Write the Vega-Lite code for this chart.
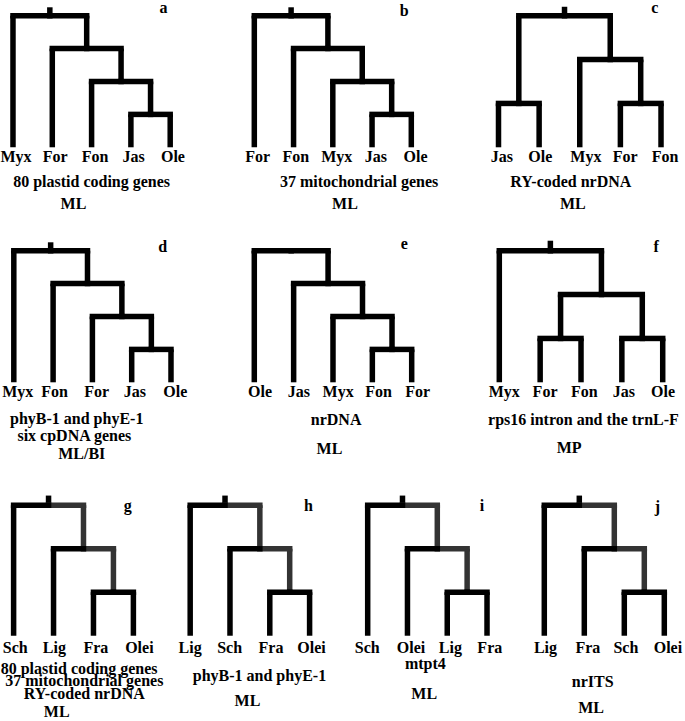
{
"$schema":"https://vega.github.io/schema/vega-lite/v6.json",
"padding":0,
"spacing":0,
"config":{"view":{"stroke":null},"concat":{"spacing":0}},
"datasets":{
"seg":[
{"p":"a","cx":3.5,"cy":0.25,"px":2.75,"py":0.5,"k":"int"},
{"p":"a","cx":2.75,"cy":0.5,"px":1.875,"py":0.75,"k":"int"},
{"p":"a","cx":1.875,"cy":0.75,"px":0.9375,"py":1,"k":"int"},
{"p":"a","cx":0,"cy":0,"px":0.9375,"py":1,"k":"leaf"},
{"p":"a","cx":1,"cy":0,"px":1.875,"py":0.75,"k":"leaf"},
{"p":"a","cx":2,"cy":0,"px":2.75,"py":0.5,"k":"leaf"},
{"p":"a","cx":3,"cy":0,"px":3.5,"py":0.25,"k":"leaf"},
{"p":"a","cx":4,"cy":0,"px":3.5,"py":0.25,"k":"leaf"},
{"p":"a","cx":0.9375,"cy":1,"px":0.9375,"py":1.064,"k":"stub"},
{"p":"b","cx":3.5,"cy":0.25,"px":2.75,"py":0.5,"k":"int"},
{"p":"b","cx":2.75,"cy":0.5,"px":1.875,"py":0.75,"k":"int"},
{"p":"b","cx":1.875,"cy":0.75,"px":0.9375,"py":1,"k":"int"},
{"p":"b","cx":0,"cy":0,"px":0.9375,"py":1,"k":"leaf"},
{"p":"b","cx":1,"cy":0,"px":1.875,"py":0.75,"k":"leaf"},
{"p":"b","cx":2,"cy":0,"px":2.75,"py":0.5,"k":"leaf"},
{"p":"b","cx":3,"cy":0,"px":3.5,"py":0.25,"k":"leaf"},
{"p":"b","cx":4,"cy":0,"px":3.5,"py":0.25,"k":"leaf"},
{"p":"b","cx":0.9375,"cy":1,"px":0.9375,"py":1.064,"k":"stub"},
{"p":"c","cx":0.5,"cy":0.3333,"px":1.625,"py":1,"k":"int"},
{"p":"c","cx":3.5,"cy":0.3333,"px":2.75,"py":0.6667,"k":"int"},
{"p":"c","cx":2.75,"cy":0.6667,"px":1.625,"py":1,"k":"int"},
{"p":"c","cx":0,"cy":0,"px":0.5,"py":0.3333,"k":"leaf"},
{"p":"c","cx":1,"cy":0,"px":0.5,"py":0.3333,"k":"leaf"},
{"p":"c","cx":2,"cy":0,"px":2.75,"py":0.6667,"k":"leaf"},
{"p":"c","cx":3,"cy":0,"px":3.5,"py":0.3333,"k":"leaf"},
{"p":"c","cx":4,"cy":0,"px":3.5,"py":0.3333,"k":"leaf"},
{"p":"c","cx":1.625,"cy":1,"px":1.625,"py":1.068,"k":"stub"},
{"p":"d","cx":3.5,"cy":0.25,"px":2.75,"py":0.5,"k":"int"},
{"p":"d","cx":2.75,"cy":0.5,"px":1.875,"py":0.75,"k":"int"},
{"p":"d","cx":1.875,"cy":0.75,"px":0.9375,"py":1,"k":"int"},
{"p":"d","cx":0,"cy":0,"px":0.9375,"py":1,"k":"leaf"},
{"p":"d","cx":1,"cy":0,"px":1.875,"py":0.75,"k":"leaf"},
{"p":"d","cx":2,"cy":0,"px":2.75,"py":0.5,"k":"leaf"},
{"p":"d","cx":3,"cy":0,"px":3.5,"py":0.25,"k":"leaf"},
{"p":"d","cx":4,"cy":0,"px":3.5,"py":0.25,"k":"leaf"},
{"p":"d","cx":0.9375,"cy":1,"px":0.9375,"py":1.064,"k":"stub"},
{"p":"e","cx":3.5,"cy":0.25,"px":2.75,"py":0.5,"k":"int"},
{"p":"e","cx":2.75,"cy":0.5,"px":1.875,"py":0.75,"k":"int"},
{"p":"e","cx":1.875,"cy":0.75,"px":0.9375,"py":1,"k":"int"},
{"p":"e","cx":0,"cy":0,"px":0.9375,"py":1,"k":"leaf"},
{"p":"e","cx":1,"cy":0,"px":1.875,"py":0.75,"k":"leaf"},
{"p":"e","cx":2,"cy":0,"px":2.75,"py":0.5,"k":"leaf"},
{"p":"e","cx":3,"cy":0,"px":3.5,"py":0.25,"k":"leaf"},
{"p":"e","cx":4,"cy":0,"px":3.5,"py":0.25,"k":"leaf"},
{"p":"f","cx":1.5,"cy":0.3333,"px":2.5,"py":0.6667,"k":"int"},
{"p":"f","cx":3.5,"cy":0.3333,"px":2.5,"py":0.6667,"k":"int"},
{"p":"f","cx":2.5,"cy":0.6667,"px":1.25,"py":1,"k":"int"},
{"p":"f","cx":0,"cy":0,"px":1.25,"py":1,"k":"leaf"},
{"p":"f","cx":1,"cy":0,"px":1.5,"py":0.3333,"k":"leaf"},
{"p":"f","cx":2,"cy":0,"px":1.5,"py":0.3333,"k":"leaf"},
{"p":"f","cx":3,"cy":0,"px":3.5,"py":0.3333,"k":"leaf"},
{"p":"f","cx":4,"cy":0,"px":3.5,"py":0.3333,"k":"leaf"},
{"p":"f","cx":1.25,"cy":1,"px":1.25,"py":1.076,"k":"stub"},
{"p":"g","cx":2.5,"cy":0.3333,"px":1.75,"py":0.6667,"k":"int"},
{"p":"g","cx":1.75,"cy":0.6667,"px":0.875,"py":1,"k":"int"},
{"p":"g","cx":0,"cy":0,"px":0.875,"py":1,"k":"leaf"},
{"p":"g","cx":1,"cy":0,"px":1.75,"py":0.6667,"k":"leaf"},
{"p":"g","cx":2,"cy":0,"px":2.5,"py":0.3333,"k":"leaf"},
{"p":"g","cx":3,"cy":0,"px":2.5,"py":0.3333,"k":"leaf"},
{"p":"g","cx":0.875,"cy":1,"px":0.875,"py":1.074,"k":"stub"},
{"p":"h","cx":2.5,"cy":0.3333,"px":1.75,"py":0.6667,"k":"int"},
{"p":"h","cx":1.75,"cy":0.6667,"px":0.875,"py":1,"k":"int"},
{"p":"h","cx":0,"cy":0,"px":0.875,"py":1,"k":"leaf"},
{"p":"h","cx":1,"cy":0,"px":1.75,"py":0.6667,"k":"leaf"},
{"p":"h","cx":2,"cy":0,"px":2.5,"py":0.3333,"k":"leaf"},
{"p":"h","cx":3,"cy":0,"px":2.5,"py":0.3333,"k":"leaf"},
{"p":"h","cx":0.875,"cy":1,"px":0.875,"py":1.074,"k":"stub"},
{"p":"i","cx":2.5,"cy":0.3333,"px":1.75,"py":0.6667,"k":"int"},
{"p":"i","cx":1.75,"cy":0.6667,"px":0.875,"py":1,"k":"int"},
{"p":"i","cx":0,"cy":0,"px":0.875,"py":1,"k":"leaf"},
{"p":"i","cx":1,"cy":0,"px":1.75,"py":0.6667,"k":"leaf"},
{"p":"i","cx":2,"cy":0,"px":2.5,"py":0.3333,"k":"leaf"},
{"p":"i","cx":3,"cy":0,"px":2.5,"py":0.3333,"k":"leaf"},
{"p":"i","cx":0.875,"cy":1,"px":0.875,"py":1.074,"k":"stub"},
{"p":"j","cx":2.5,"cy":0.3333,"px":1.75,"py":0.6667,"k":"int"},
{"p":"j","cx":1.75,"cy":0.6667,"px":0.875,"py":1,"k":"int"},
{"p":"j","cx":0,"cy":0,"px":0.875,"py":1,"k":"leaf"},
{"p":"j","cx":1,"cy":0,"px":1.75,"py":0.6667,"k":"leaf"},
{"p":"j","cx":2,"cy":0,"px":2.5,"py":0.3333,"k":"leaf"},
{"p":"j","cx":3,"cy":0,"px":2.5,"py":0.3333,"k":"leaf"},
{"p":"j","cx":0.875,"cy":1,"px":0.875,"py":1.074,"k":"stub"}
],
"txt":[
{"p":"a","cx":0.075,"cy":-0.114,"t":"Myx"},
{"p":"a","cx":1.076,"cy":-0.114,"t":"For"},
{"p":"a","cx":2.09,"cy":-0.114,"t":"Fon"},
{"p":"a","cx":3.07,"cy":-0.114,"t":"Jas"},
{"p":"a","cx":4.07,"cy":-0.114,"t":"Ole"},
{"p":"a","cx":2.0,"cy":-0.299,"t":"80 plastid coding genes"},
{"p":"a","cx":1.54,"cy":-0.469,"t":"ML"},
{"p":"a","cx":3.83,"cy":1.018,"t":"a"},
{"p":"b","cx":0.087,"cy":-0.114,"t":"For"},
{"p":"b","cx":1.06,"cy":-0.114,"t":"Fon"},
{"p":"b","cx":2.10,"cy":-0.114,"t":"Myx"},
{"p":"b","cx":3.10,"cy":-0.114,"t":"Jas"},
{"p":"b","cx":4.11,"cy":-0.114,"t":"Ole"},
{"p":"b","cx":2.67,"cy":-0.299,"t":"37 mitochondrial genes"},
{"p":"b","cx":2.31,"cy":-0.469,"t":"ML"},
{"p":"b","cx":3.82,"cy":1.0,"t":"b"},
{"p":"c","cx":0.08,"cy":-0.114,"t":"Jas"},
{"p":"c","cx":1.03,"cy":-0.114,"t":"Ole"},
{"p":"c","cx":2.15,"cy":-0.114,"t":"Myx"},
{"p":"c","cx":3.12,"cy":-0.114,"t":"For"},
{"p":"c","cx":4.10,"cy":-0.114,"t":"Fon"},
{"p":"c","cx":1.78,"cy":-0.299,"t":"RY-coded nrDNA"},
{"p":"c","cx":1.83,"cy":-0.469,"t":"ML"},
{"p":"c","cx":3.85,"cy":1.018,"t":"c"},
{"p":"d","cx":0.10,"cy":-0.114,"t":"Myx"},
{"p":"d","cx":1.04,"cy":-0.114,"t":"Fon"},
{"p":"d","cx":2.11,"cy":-0.114,"t":"For"},
{"p":"d","cx":3.08,"cy":-0.114,"t":"Jas"},
{"p":"d","cx":4.11,"cy":-0.114,"t":"Ole"},
{"p":"d","cx":1.60,"cy":-0.317,"t":"phyB-1 and phyE-1"},
{"p":"d","cx":1.54,"cy":-0.448,"t":"six cpDNA genes"},
{"p":"d","cx":1.73,"cy":-0.583,"t":"ML/BI"},
{"p":"d","cx":3.79,"cy":0.988,"t":"d"},
{"p":"e","cx":0.145,"cy":-0.114,"t":"Ole"},
{"p":"e","cx":1.13,"cy":-0.114,"t":"Jas"},
{"p":"e","cx":2.13,"cy":-0.114,"t":"Myx"},
{"p":"e","cx":3.16,"cy":-0.114,"t":"Fon"},
{"p":"e","cx":4.15,"cy":-0.114,"t":"For"},
{"p":"e","cx":2.08,"cy":-0.324,"t":"nrDNA"},
{"p":"e","cx":1.91,"cy":-0.545,"t":"ML"},
{"p":"e","cx":3.81,"cy":1.013,"t":"e"},
{"p":"f","cx":0.12,"cy":-0.114,"t":"Myx"},
{"p":"f","cx":1.12,"cy":-0.114,"t":"For"},
{"p":"f","cx":2.08,"cy":-0.114,"t":"Fon"},
{"p":"f","cx":3.05,"cy":-0.114,"t":"Jas"},
{"p":"f","cx":4.01,"cy":-0.114,"t":"Ole"},
{"p":"f","cx":2.06,"cy":-0.324,"t":"rps16 intron and the trnL-F"},
{"p":"f","cx":1.71,"cy":-0.540,"t":"MP"},
{"p":"f","cx":3.84,"cy":0.988,"t":"f"},
{"p":"g","cx":0.04,"cy":-0.135,"t":"Sch"},
{"p":"g","cx":1.02,"cy":-0.135,"t":"Lig"},
{"p":"g","cx":2.06,"cy":-0.135,"t":"Fra"},
{"p":"g","cx":3.15,"cy":-0.135,"t":"Olei"},
{"p":"g","cx":1.64,"cy":-0.293,"t":"80 plastid coding genes"},
{"p":"g","cx":1.77,"cy":-0.383,"t":"37 mitochondrial genes"},
{"p":"g","cx":1.77,"cy":-0.485,"t":"RY-coded nrDNA"},
{"p":"g","cx":1.08,"cy":-0.623,"t":"ML"},
{"p":"g","cx":2.86,"cy":0.958,"t":"g"},
{"p":"h","cx":0.0,"cy":-0.135,"t":"Lig"},
{"p":"h","cx":0.99,"cy":-0.135,"t":"Sch"},
{"p":"h","cx":2.03,"cy":-0.135,"t":"Fra"},
{"p":"h","cx":3.05,"cy":-0.135,"t":"Olei"},
{"p":"h","cx":1.74,"cy":-0.345,"t":"phyB-1 and phyE-1"},
{"p":"h","cx":1.44,"cy":-0.536,"t":"ML"},
{"p":"h","cx":2.97,"cy":0.953,"t":"h"},
{"p":"i","cx":-0.01,"cy":-0.135,"t":"Sch"},
{"p":"i","cx":1.09,"cy":-0.135,"t":"Olei"},
{"p":"i","cx":2.08,"cy":-0.135,"t":"Lig"},
{"p":"i","cx":3.07,"cy":-0.135,"t":"Fra"},
{"p":"i","cx":1.45,"cy":-0.255,"t":"mtpt4"},
{"p":"i","cx":1.42,"cy":-0.485,"t":"ML"},
{"p":"i","cx":2.87,"cy":0.953,"t":"i"},
{"p":"j","cx":0.03,"cy":-0.135,"t":"Lig"},
{"p":"j","cx":1.09,"cy":-0.135,"t":"Fra"},
{"p":"j","cx":2.04,"cy":-0.135,"t":"Sch"},
{"p":"j","cx":3.09,"cy":-0.135,"t":"Olei"},
{"p":"j","cx":1.21,"cy":-0.395,"t":"nrITS"},
{"p":"j","cx":1.17,"cy":-0.595,"t":"ML"},
{"p":"j","cx":2.83,"cy":0.948,"t":"j"}
]
},
"vconcat":[
{"spacing":0,"hconcat":[
{"width":230,"height":225,
"encoding":{"x":{"field":"cx","type":"quantitative","scale":{"domain":[-0.305,5.547],"nice":false,"zero":false},"axis":null},"y":{"field":"cy","type":"quantitative","scale":{"domain":[-0.621,1.089],"nice":false,"zero":false},"axis":null}},
"layer":[
{"data":{"name":"seg"},"transform":[{"filter":"datum.p=='a'"}],"mark":{"type":"rule","strokeWidth":5.5,"strokeCap":"butt","color":"#000000"},"encoding":{"y2":{"field":"py"}}},
{"data":{"name":"seg"},"transform":[{"filter":"datum.p=='a' && datum.k!='stub'"}],"mark":{"type":"rule","strokeWidth":5.5,"strokeCap":"square","color":"#000000"},"encoding":{"y":{"field":"py","type":"quantitative","scale":{"domain":[-0.621,1.089],"nice":false,"zero":false},"axis":null},"x2":{"field":"px"}}},
{"data":{"name":"txt"},"transform":[{"filter":"datum.p=='a'"}],"mark":{"type":"text","font":"Liberation Serif","fontWeight":"bold","fontSize":16,"align":"center","baseline":"alphabetic","color":"#000000"},"encoding":{"text":{"field":"t"}}}
]},
{"width":225,"height":225,
"encoding":{"x":{"field":"cx","type":"quantitative","scale":{"domain":[-0.594,5.139],"nice":false,"zero":false},"axis":null},"y":{"field":"cy","type":"quantitative","scale":{"domain":[-0.621,1.089],"nice":false,"zero":false},"axis":null}},
"layer":[
{"data":{"name":"seg"},"transform":[{"filter":"datum.p=='b'"}],"mark":{"type":"rule","strokeWidth":5.5,"strokeCap":"butt","color":"#000000"},"encoding":{"y2":{"field":"py"}}},
{"data":{"name":"seg"},"transform":[{"filter":"datum.p=='b' && datum.k!='stub'"}],"mark":{"type":"rule","strokeWidth":5.5,"strokeCap":"square","color":"#000000"},"encoding":{"y":{"field":"py","type":"quantitative","scale":{"domain":[-0.621,1.089],"nice":false,"zero":false},"axis":null},"x2":{"field":"px"}}},
{"data":{"name":"txt"},"transform":[{"filter":"datum.p=='b'"}],"mark":{"type":"text","font":"Liberation Serif","fontWeight":"bold","fontSize":16,"align":"center","baseline":"alphabetic","color":"#000000"},"encoding":{"text":{"field":"t"}}}
]},
{"width":230,"height":225,
"encoding":{"x":{"field":"cx","type":"quantitative","scale":{"domain":[-1.046,4.615],"nice":false,"zero":false},"axis":null},"y":{"field":"cy","type":"quantitative","scale":{"domain":[-0.621,1.089],"nice":false,"zero":false},"axis":null}},
"layer":[
{"data":{"name":"seg"},"transform":[{"filter":"datum.p=='c'"}],"mark":{"type":"rule","strokeWidth":5.5,"strokeCap":"butt","color":"#000000"},"encoding":{"y2":{"field":"py"}}},
{"data":{"name":"seg"},"transform":[{"filter":"datum.p=='c' && datum.k!='stub'"}],"mark":{"type":"rule","strokeWidth":5.5,"strokeCap":"square","color":"#000000"},"encoding":{"y":{"field":"py","type":"quantitative","scale":{"domain":[-0.621,1.089],"nice":false,"zero":false},"axis":null},"x2":{"field":"px"}}},
{"data":{"name":"txt"},"transform":[{"filter":"datum.p=='c'"}],"mark":{"type":"text","font":"Liberation Serif","fontWeight":"bold","fontSize":16,"align":"center","baseline":"alphabetic","color":"#000000"},"encoding":{"text":{"field":"t"}}}
]}
]},
{"spacing":0,"hconcat":[
{"width":230,"height":247,
"encoding":{"x":{"field":"cx","type":"quantitative","scale":{"domain":[-0.326,5.527],"nice":false,"zero":false},"axis":null},"y":{"field":"cy","type":"quantitative","scale":{"domain":[-0.712,1.165],"nice":false,"zero":false},"axis":null}},
"layer":[
{"data":{"name":"seg"},"transform":[{"filter":"datum.p=='d'"}],"mark":{"type":"rule","strokeWidth":5.5,"strokeCap":"butt","color":"#000000"},"encoding":{"y2":{"field":"py"}}},
{"data":{"name":"seg"},"transform":[{"filter":"datum.p=='d' && datum.k!='stub'"}],"mark":{"type":"rule","strokeWidth":5.5,"strokeCap":"square","color":"#000000"},"encoding":{"y":{"field":"py","type":"quantitative","scale":{"domain":[-0.712,1.165],"nice":false,"zero":false},"axis":null},"x2":{"field":"px"}}},
{"data":{"name":"txt"},"transform":[{"filter":"datum.p=='d'"}],"mark":{"type":"text","font":"Liberation Serif","fontWeight":"bold","fontSize":16,"align":"center","baseline":"alphabetic","color":"#000000"},"encoding":{"text":{"field":"t"}}}
]},
{"width":225,"height":247,
"encoding":{"x":{"field":"cx","type":"quantitative","scale":{"domain":[-0.592,5.126],"nice":false,"zero":false},"axis":null},"y":{"field":"cy","type":"quantitative","scale":{"domain":[-0.712,1.165],"nice":false,"zero":false},"axis":null}},
"layer":[
{"data":{"name":"seg"},"transform":[{"filter":"datum.p=='e'"}],"mark":{"type":"rule","strokeWidth":5.5,"strokeCap":"butt","color":"#000000"},"encoding":{"y2":{"field":"py"}}},
{"data":{"name":"seg"},"transform":[{"filter":"datum.p=='e' && datum.k!='stub'"}],"mark":{"type":"rule","strokeWidth":5.5,"strokeCap":"square","color":"#000000"},"encoding":{"y":{"field":"py","type":"quantitative","scale":{"domain":[-0.712,1.165],"nice":false,"zero":false},"axis":null},"x2":{"field":"px"}}},
{"data":{"name":"txt"},"transform":[{"filter":"datum.p=='e'"}],"mark":{"type":"text","font":"Liberation Serif","fontWeight":"bold","fontSize":16,"align":"center","baseline":"alphabetic","color":"#000000"},"encoding":{"text":{"field":"t"}}}
]},
{"width":230,"height":247,
"encoding":{"x":{"field":"cx","type":"quantitative","scale":{"domain":[-1.06,4.57],"nice":false,"zero":false},"axis":null},"y":{"field":"cy","type":"quantitative","scale":{"domain":[-0.712,1.165],"nice":false,"zero":false},"axis":null}},
"layer":[
{"data":{"name":"seg"},"transform":[{"filter":"datum.p=='f'"}],"mark":{"type":"rule","strokeWidth":5.5,"strokeCap":"butt","color":"#000000"},"encoding":{"y2":{"field":"py"}}},
{"data":{"name":"seg"},"transform":[{"filter":"datum.p=='f' && datum.k!='stub'"}],"mark":{"type":"rule","strokeWidth":5.5,"strokeCap":"square","color":"#000000"},"encoding":{"y":{"field":"py","type":"quantitative","scale":{"domain":[-0.712,1.165],"nice":false,"zero":false},"axis":null},"x2":{"field":"px"}}},
{"data":{"name":"txt"},"transform":[{"filter":"datum.p=='f'"}],"mark":{"type":"text","font":"Liberation Serif","fontWeight":"bold","fontSize":16,"align":"center","baseline":"alphabetic","color":"#000000"},"encoding":{"text":{"field":"t"}}}
]}
]},
{"spacing":0,"hconcat":[
{"width":170,"height":249,
"encoding":{"x":{"field":"cx","type":"quantitative","scale":{"domain":[-0.316,3.942],"nice":false,"zero":false},"axis":null},"y":{"field":"cy","type":"quantitative","scale":{"domain":[-0.684,1.224],"nice":false,"zero":false},"axis":null}},
"layer":[
{"data":{"name":"seg"},"transform":[{"filter":"datum.p=='g'"}],"mark":{"type":"rule","strokeWidth":5.5,"strokeCap":"butt"},"encoding":{"y2":{"field":"py"},"color":{"field":"k","type":"nominal","scale":{"domain":["leaf","int","stub"],"range":["#000000","#333333","#000000"]},"legend":null}}},
{"data":{"name":"seg"},"transform":[{"filter":"datum.p=='g' && datum.k!='stub'"}],"mark":{"type":"rule","strokeWidth":5.5,"strokeCap":"square"},"encoding":{"y":{"field":"py","type":"quantitative","scale":{"domain":[-0.684,1.224],"nice":false,"zero":false},"axis":null},"x2":{"field":"px"},"color":{"field":"k","type":"nominal","scale":{"domain":["leaf","int","stub"],"range":["#000000","#333333","#000000"]},"legend":null}}},
{"data":{"name":"txt"},"transform":[{"filter":"datum.p=='g'"}],"mark":{"type":"text","font":"Liberation Serif","fontWeight":"bold","fontSize":16,"align":"center","baseline":"alphabetic","color":"#000000"},"encoding":{"text":{"field":"t"}}}
]},
{"width":170,"height":249,
"encoding":{"x":{"field":"cx","type":"quantitative","scale":{"domain":[-0.482,3.789],"nice":false,"zero":false},"axis":null},"y":{"field":"cy","type":"quantitative","scale":{"domain":[-0.684,1.224],"nice":false,"zero":false},"axis":null}},
"layer":[
{"data":{"name":"seg"},"transform":[{"filter":"datum.p=='h'"}],"mark":{"type":"rule","strokeWidth":5.5,"strokeCap":"butt"},"encoding":{"y2":{"field":"py"},"color":{"field":"k","type":"nominal","scale":{"domain":["leaf","int","stub"],"range":["#000000","#333333","#000000"]},"legend":null}}},
{"data":{"name":"seg"},"transform":[{"filter":"datum.p=='h' && datum.k!='stub'"}],"mark":{"type":"rule","strokeWidth":5.5,"strokeCap":"square"},"encoding":{"y":{"field":"py","type":"quantitative","scale":{"domain":[-0.684,1.224],"nice":false,"zero":false},"axis":null},"x2":{"field":"px"},"color":{"field":"k","type":"nominal","scale":{"domain":["leaf","int","stub"],"range":["#000000","#333333","#000000"]},"legend":null}}},
{"data":{"name":"txt"},"transform":[{"filter":"datum.p=='h'"}],"mark":{"type":"text","font":"Liberation Serif","fontWeight":"bold","fontSize":16,"align":"center","baseline":"alphabetic","color":"#000000"},"encoding":{"text":{"field":"t"}}}
]},
{"width":170,"height":249,
"encoding":{"x":{"field":"cx","type":"quantitative","scale":{"domain":[-0.671,3.603],"nice":false,"zero":false},"axis":null},"y":{"field":"cy","type":"quantitative","scale":{"domain":[-0.684,1.224],"nice":false,"zero":false},"axis":null}},
"layer":[
{"data":{"name":"seg"},"transform":[{"filter":"datum.p=='i'"}],"mark":{"type":"rule","strokeWidth":5.5,"strokeCap":"butt"},"encoding":{"y2":{"field":"py"},"color":{"field":"k","type":"nominal","scale":{"domain":["leaf","int","stub"],"range":["#000000","#333333","#000000"]},"legend":null}}},
{"data":{"name":"seg"},"transform":[{"filter":"datum.p=='i' && datum.k!='stub'"}],"mark":{"type":"rule","strokeWidth":5.5,"strokeCap":"square"},"encoding":{"y":{"field":"py","type":"quantitative","scale":{"domain":[-0.684,1.224],"nice":false,"zero":false},"axis":null},"x2":{"field":"px"},"color":{"field":"k","type":"nominal","scale":{"domain":["leaf","int","stub"],"range":["#000000","#333333","#000000"]},"legend":null}}},
{"data":{"name":"txt"},"transform":[{"filter":"datum.p=='i'"}],"mark":{"type":"text","font":"Liberation Serif","fontWeight":"bold","fontSize":16,"align":"center","baseline":"alphabetic","color":"#000000"},"encoding":{"text":{"field":"t"}}}
]},
{"width":175,"height":249,
"encoding":{"x":{"field":"cx","type":"quantitative","scale":{"domain":[-0.8325,3.5425],"nice":false,"zero":false},"axis":null},"y":{"field":"cy","type":"quantitative","scale":{"domain":[-0.684,1.224],"nice":false,"zero":false},"axis":null}},
"layer":[
{"data":{"name":"seg"},"transform":[{"filter":"datum.p=='j'"}],"mark":{"type":"rule","strokeWidth":5.5,"strokeCap":"butt"},"encoding":{"y2":{"field":"py"},"color":{"field":"k","type":"nominal","scale":{"domain":["leaf","int","stub"],"range":["#000000","#333333","#000000"]},"legend":null}}},
{"data":{"name":"seg"},"transform":[{"filter":"datum.p=='j' && datum.k!='stub'"}],"mark":{"type":"rule","strokeWidth":5.5,"strokeCap":"square"},"encoding":{"y":{"field":"py","type":"quantitative","scale":{"domain":[-0.684,1.224],"nice":false,"zero":false},"axis":null},"x2":{"field":"px"},"color":{"field":"k","type":"nominal","scale":{"domain":["leaf","int","stub"],"range":["#000000","#333333","#000000"]},"legend":null}}},
{"data":{"name":"txt"},"transform":[{"filter":"datum.p=='j'"}],"mark":{"type":"text","font":"Liberation Serif","fontWeight":"bold","fontSize":16,"align":"center","baseline":"alphabetic","color":"#000000"},"encoding":{"text":{"field":"t"}}}
]}
]}
]
}
